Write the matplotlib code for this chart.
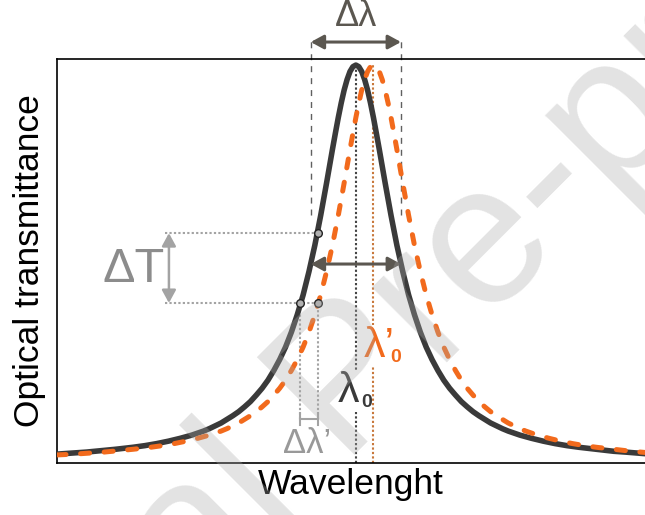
import matplotlib
matplotlib.use('Agg')
import matplotlib.pyplot as plt

plt.rcParams['font.family'] = ['Liberation Sans', 'DejaVu Sans']
plt.rcParams['lines.scale_dashes'] = False

# reference resonance (black)
wl_ref = [0, 5, 10, 13, 15, 17, 19, 21, 23,
          24, 25, 26, 27, 28, 29, 30, 31, 32, 33, 34, 35, 36, 37, 38, 39, 40, 41, 42, 43, 44,
          45, 46, 47,
          47.5, 48, 48.5, 49, 49.5, 50, 50.5, 51, 51.5, 52, 52.5, 53, 53.5, 54, 54.5, 55,
          56, 57, 58, 59, 60, 61, 62, 63, 64, 65, 66, 67, 68, 69, 70, 71, 72, 73, 74, 75, 76,
          77, 78, 79,
          81, 83, 85, 87, 89, 92, 95, 97, 100.4]
tr_ref = [0.022, 0.027, 0.034, 0.039, 0.043, 0.048, 0.054, 0.061, 0.069,
          0.074, 0.079, 0.085, 0.092, 0.099, 0.108, 0.117, 0.127, 0.139, 0.152, 0.168, 0.185,
          0.205, 0.229, 0.256, 0.287, 0.324, 0.367, 0.416, 0.474, 0.539, 0.613, 0.693, 0.776,
          0.816, 0.855, 0.891, 0.923, 0.949, 0.969, 0.981, 0.985, 0.981, 0.969, 0.949, 0.923,
          0.891, 0.855, 0.816, 0.776,
          0.693, 0.613, 0.539, 0.474, 0.416, 0.367, 0.324, 0.287, 0.256, 0.229, 0.205, 0.185,
          0.168, 0.152, 0.139, 0.127, 0.117, 0.108, 0.099, 0.092, 0.085, 0.079, 0.074, 0.069,
          0.061, 0.054, 0.048, 0.043, 0.039, 0.034, 0.029, 0.027, 0.023]

# shifted resonance (orange dashed)
wl_shift = [0, 3, 8, 13, 16, 18, 20, 22, 24, 26,
            27, 28, 29, 30, 31, 32, 33, 34, 35, 36, 37, 38, 39, 40, 41, 42, 43, 44, 45, 46, 47,
            48, 49, 50,
            50.5, 51, 51.5, 52, 52.5, 53, 53.5, 54, 54.5, 55, 55.5, 56, 56.5, 57, 57.5, 58,
            59, 60, 61, 62, 63, 64, 65, 66, 67, 68, 69, 70, 71, 72, 73, 74, 75, 76, 77, 78, 79,
            80, 81, 82,
            84, 86, 88, 90, 92, 95, 98, 100.4]
tr_shift = [0.020, 0.022, 0.027, 0.034, 0.039, 0.043, 0.048, 0.054, 0.061, 0.069,
            0.074, 0.079, 0.085, 0.092, 0.099, 0.108, 0.117, 0.127, 0.139, 0.152, 0.168, 0.185,
            0.205, 0.229, 0.256, 0.287, 0.324, 0.367, 0.416, 0.474, 0.539, 0.613, 0.693, 0.776,
            0.816, 0.855, 0.891, 0.923, 0.949, 0.969, 0.981, 0.985, 0.981, 0.969, 0.949, 0.923,
            0.891, 0.855, 0.816, 0.776,
            0.693, 0.613, 0.539, 0.474, 0.416, 0.367, 0.324, 0.287, 0.256, 0.229, 0.205, 0.185,
            0.168, 0.152, 0.139, 0.127, 0.117, 0.108, 0.099, 0.092, 0.085, 0.079, 0.074, 0.069,
            0.061, 0.054, 0.048, 0.043, 0.039, 0.034, 0.029, 0.026]

lam0 = 51.0
lam0_shift = 54.0
peak_t = 0.985
half_t = 0.4925
fwhm_lo, fwhm_hi = 43.3, 58.7
t_high, t_low = 0.569, 0.396
lam_a, lam_b = 41.5, 44.5

BLACK = '#3a3a3a'
ORANGE = '#f26a1c'
ARROW = '#5b5750'
LGRAY = '#a3a3a3'

fig = plt.figure(figsize=(6.45, 5.15), dpi=100)
ax = fig.add_axes([57 / 645, 1 - 463 / 515, 1 - 57 / 645, 404 / 515])
ax.patch.set_facecolor('none')
ax.set_xlim(0, 100.34)
ax.set_ylim(0, 1)
ax.set_xticks([])
ax.set_yticks([])
ax.spines['right'].set_visible(False)
for s in ['left', 'top', 'bottom']:
    ax.spines[s].set_linewidth(1.2)

ax.plot(wl_ref, tr_ref, color=BLACK, lw=4, solid_capstyle='round', solid_joinstyle='round',
        zorder=3)
ax.plot(wl_shift, tr_shift, color=ORANGE, lw=3.6, dashes=(6.5, 10.5),
        dash_capstyle='round', zorder=4)

# resonance positions
ax.plot([lam0, lam0], [0, peak_t], color='#444444', lw=1.5, dashes=(1.6, 1.6), zorder=2)
ax.plot([lam0_shift, lam0_shift], [0, peak_t], color='#c8783c', lw=1.5, dashes=(1.6, 1.6), zorder=2)

# bandwidth guides and arrows
for xv in (fwhm_lo, fwhm_hi):
    ax.plot([xv, xv], [0.614, 1.047], color='#606060', lw=1.0, dashes=(4.3, 4.3),
            clip_on=False, zorder=2)
arrow_kw = dict(arrowstyle='<|-|>,head_length=0.55,head_width=0.3', color=ARROW, lw=2.2,
                shrinkA=0, shrinkB=0, mutation_scale=14)
ax.annotate('', xy=(fwhm_lo, 1.042), xytext=(fwhm_hi, 1.042), arrowprops=arrow_kw,
            annotation_clip=False)
ax.annotate('', xy=(fwhm_lo, half_t), xytext=(fwhm_hi, half_t), arrowprops=arrow_kw, zorder=5)
ax.text(51.0, 1.105, 'Δλ', fontsize=26, color=ARROW, ha='center', va='center', clip_on=False)

# transmittance change
for yv, xe in ((t_high, lam_b), (t_low, lam_b)):
    ax.plot([18.4, xe], [yv, yv], color=LGRAY, lw=1.5, dashes=(1.6, 1.6), zorder=2)
ax.annotate('', xy=(19.1, t_high), xytext=(19.1, t_low),
            arrowprops=dict(arrowstyle='<|-|>,head_length=0.55,head_width=0.3', color=LGRAY,
                            lw=1.8, shrinkA=0, shrinkB=0, mutation_scale=14))
ax.text(13.1, 0.478, 'ΔT', fontsize=35, color='#8c8c8c', ha='center', va='center')

# wavelength shift at fixed transmittance
for xv in (lam_a, lam_b):
    ax.plot([xv, xv], [0.11, t_low], color=LGRAY, lw=1.5, dashes=(1.6, 1.6), zorder=2)
ax.plot([lam_a, lam_b], [0.109, 0.109], color=LGRAY, lw=1.5, zorder=2)
for xv in (lam_a, lam_b):
    ax.plot([xv, xv], [0.094, 0.124], color=LGRAY, lw=1.5, zorder=2)
ax.text(42.6, 0.048, 'Δλ’', fontsize=25, color='#999999', ha='center', va='center')

ax.plot([lam_b, lam_a], [t_high, t_low], ls='none', marker='o', ms=5.5, mfc='#b0b0b0',
        mec='#222222', mew=1.0, zorder=6)
ax.plot([lam_b], [t_low], ls='none', marker='o', ms=5.5, mfc='#b0b0b0',
        mec='#222222', mew=1.0, zorder=6)

# resonance labels
ax.text(49.8, 0.178, 'λ', fontsize=31, color=BLACK, ha='center', va='center', zorder=5,
        bbox=dict(facecolor='white', edgecolor='none', pad=1))
ax.text(52.9, 0.150, '0', fontsize=14, fontweight='bold', color=BLACK, ha='center',
        va='center', zorder=5)
ax.text(55.0, 0.29, 'λ’', fontsize=31, color=ORANGE, ha='center', va='center', zorder=5,
        bbox=dict(facecolor='white', edgecolor='none', pad=1))
ax.text(57.7, 0.262, '0', fontsize=14, fontweight='bold', color=ORANGE, ha='center',
        va='center', zorder=5)

ax.set_xlabel('Wavelenght', fontsize=25.5, labelpad=3.5)
ax.set_ylabel('Optical transmittance', fontsize=25.5, labelpad=8)

fig.text(0.543, 0.249, 'Journal Pre-proof', rotation=45, rotation_mode='anchor',
         fontsize=144, color='#aaaaaa', alpha=0.33, ha='center', va='center', zorder=10)

fig.savefig('out.png', dpi=100)
